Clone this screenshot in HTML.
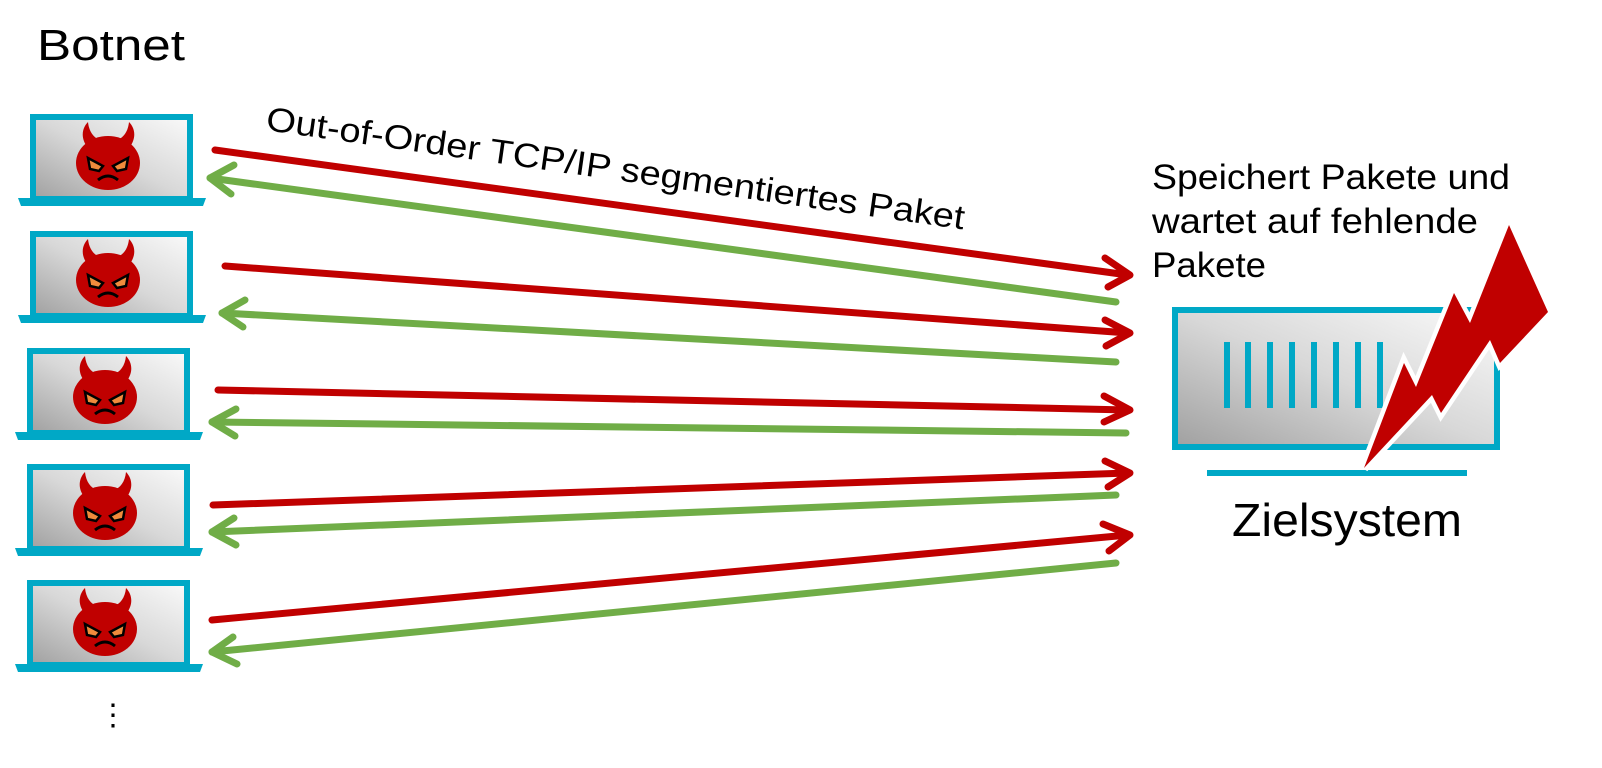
<!DOCTYPE html>
<html><head><meta charset="utf-8"><style>html,body{margin:0;padding:0;background:#fff}svg{display:block}</style></head>
<body>
<svg width="1602" height="768" viewBox="0 0 1602 768" xmlns="http://www.w3.org/2000/svg">
<defs>
<linearGradient id="g" x1="0" y1="1" x2="1" y2="0">
<stop offset="0" stop-color="#a0a0a0"/><stop offset="0.5" stop-color="#d8d8d8"/><stop offset="1" stop-color="#fafafa"/>
</linearGradient>
<g id="lap">
<rect x="33" y="117" width="157" height="82" fill="url(#g)" stroke="#00a8c6" stroke-width="6"/>
<path d="M18,198 H206 L203,206 H21 Z" fill="#00a8c6"/>
<path d="M88,148 C80,138 82,128 88,122 C89,132 94,138 100,140 Z" fill="#c00000"/>
<path d="M129,148 C137,138 135,128 129,122 C128,132 123,138 117,140 Z" fill="#c00000"/>
<ellipse cx="108" cy="163" rx="32" ry="27" fill="#c00000"/>
<path d="M88,158 L103,166 L99,171 L90,169 Z" fill="#f08a3c" stroke="#000" stroke-width="2.5"/>
<path d="M128,158 L113,166 L117,171 L126,169 Z" fill="#f08a3c" stroke="#000" stroke-width="2.5"/>
<path d="M98,180 Q108,172 118,180" fill="none" stroke="#000" stroke-width="3"/>
</g>
</defs>
<text x="37" y="60" font-family="Liberation Sans, sans-serif" font-size="44" fill="#000" textLength="148" lengthAdjust="spacingAndGlyphs">Botnet</text>
<use href="#lap"/>
<use href="#lap" transform="translate(0,117)"/>
<use href="#lap" transform="translate(-3,234)"/>
<use href="#lap" transform="translate(-3,350)"/>
<use href="#lap" transform="translate(-3,466)"/>
<text x="98" y="725" font-family="Liberation Sans, sans-serif" font-size="30">⋮</text>

<g stroke-width="7" fill="none" stroke-linecap="round" stroke-linejoin="round">
<g stroke="#c00000">
<line x1="215" y1="150" x2="1128" y2="275"/><polyline points="1105,258 1130,275 1108,287"/>
<line x1="225" y1="266" x2="1128" y2="333"/><polyline points="1105,320 1130,333 1106,346"/>
<line x1="218" y1="390" x2="1128" y2="410"/><polyline points="1104,396 1130,410 1104,422"/>
<line x1="213" y1="505" x2="1128" y2="473"/><polyline points="1105,461 1130,473 1108,487"/>
<line x1="212" y1="620" x2="1128" y2="535"/><polyline points="1103,524 1130,535 1109,551"/>
</g>
<g stroke="#70ad47">
<line x1="1116" y1="302" x2="210" y2="178"/><polyline points="234,165 210,178 231,194"/>
<line x1="1116" y1="362" x2="222" y2="313"/><polyline points="245,300 222,313 243,327"/>
<line x1="1126" y1="433" x2="212" y2="422"/><polyline points="236,409 212,422 235,436"/>
<line x1="1116" y1="495" x2="212" y2="532"/><polyline points="234,518 212,532 236,545"/>
<line x1="1116" y1="563" x2="212" y2="652"/><polyline points="233,637 212,652 237,664"/>
</g>
</g>

<text transform="translate(265,130) rotate(8.1)" font-family="Liberation Sans, sans-serif" font-size="34" textLength="705" lengthAdjust="spacingAndGlyphs">Out-of-Order TCP/IP segmentiertes Paket</text>

<g font-family="Liberation Sans, sans-serif" font-size="35">
<text x="1152" y="189" textLength="358" lengthAdjust="spacingAndGlyphs">Speichert Pakete und</text>
<text x="1152" y="233" textLength="326" lengthAdjust="spacingAndGlyphs">wartet auf fehlende</text>
<text x="1152" y="277" textLength="114" lengthAdjust="spacingAndGlyphs">Pakete</text>
</g>

<rect x="1175" y="310" width="322" height="137" fill="url(#g)" stroke="#00a8c6" stroke-width="6"/>
<g stroke="#00a8c6" stroke-width="6">
<line x1="1227" y1="342" x2="1227" y2="408"/><line x1="1248" y1="342" x2="1248" y2="408"/>
<line x1="1270" y1="342" x2="1270" y2="408"/><line x1="1292" y1="342" x2="1292" y2="408"/>
<line x1="1314" y1="342" x2="1314" y2="408"/><line x1="1336" y1="342" x2="1336" y2="408"/>
<line x1="1358" y1="342" x2="1358" y2="408"/><line x1="1380" y1="342" x2="1380" y2="408"/>
<line x1="1207" y1="473" x2="1467" y2="473"/>
</g>
<polygon points="1509,225 1548,312 1500,363 1490,340 1441,413 1432,395 1364,468 1404,363 1416,387 1454,293 1470,323" fill="#c00000" stroke="#fff" stroke-width="9" stroke-linejoin="miter" paint-order="stroke"/>
<text x="1232" y="536" font-family="Liberation Sans, sans-serif" font-size="46" textLength="230" lengthAdjust="spacingAndGlyphs">Zielsystem</text>
</svg>
</body></html>
